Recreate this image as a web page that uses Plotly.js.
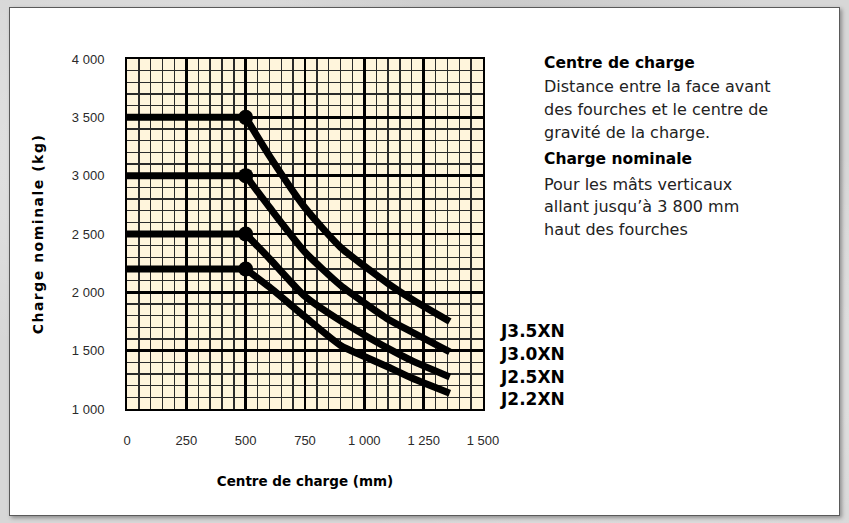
<!DOCTYPE html>
<html>
<head>
<meta charset="utf-8">
<script src="https://cdn.plot.ly/plotly-3.0.1.min.js"></script>
<style>
  html, body { margin: 0; padding: 0; width: 849px; height: 523px; overflow: hidden; }
  body {
    background-color: #d7d7d7;
    background-image:
      radial-gradient(ellipse at 20% 30%, rgba(255,255,255,0.35), rgba(255,255,255,0) 40%),
      radial-gradient(ellipse at 80% 70%, rgba(255,255,255,0.3), rgba(255,255,255,0) 45%),
      radial-gradient(ellipse at 60% 10%, rgba(160,160,160,0.25), rgba(160,160,160,0) 35%);
  }
  #panel {
    position: absolute; left: 9px; top: 7px; width: 829px; height: 507px;
    background: #ffffff; border: 1px solid #5a5a5a;
    box-shadow: 2px 2px 4px rgba(0,0,0,0.35);
  }
  #chart { position: absolute; left: 0; top: 0; width: 849px; height: 523px; }
  .ytitle { letter-spacing: 1.5px; }
</style>
</head>
<body>
<div id="panel"></div>
<div id="chart"></div>
<script>
// ---- data ----
const centreCharge = [0, 500, 600, 750, 900, 1000, 1100, 1200, 1360];   // mm
const j35xn = [3500, 3500, 3170, 2725, 2385, 2225, 2075, 1940, 1750];   // kg
const j30xn = [3000, 3000, 2730, 2345, 2060, 1910, 1770, 1660, 1490];
const j25xn = [2500, 2500, 2290, 1965, 1755, 1635, 1520, 1415, 1275];
const j22xn = [2200, 2200, 2045, 1790, 1545, 1450, 1360, 1265, 1135];
const seriesNames = ['J3.5XN', 'J3.0XN', 'J2.5XN', 'J2.2XN'];
const kneeCentre = 500;

const xTickVals = [0, 250, 500, 750, 1000, 1250, 1500];
const yTickVals = [1000, 1500, 2000, 2500, 3000, 3500, 4000];

const xTitle = 'Centre de charge (mm)';
const yTitle = 'Charge nominale (kg)';
const noteLines = [
  ['Centre de charge', true],
  ['Distance entre la face avant', false],
  ['des fourches et le centre de', false],
  ['gravité de la charge.', false],
  ['Charge nominale', true],
  ['Pour les mâts verticaux', false],
  ['allant jusqu’à 3 800 mm', false],
  ['haut des fourches', false]
];

// ---- build ----
const allSeries = [j35xn, j30xn, j25xn, j22xn];
const kneeIdx = centreCharge.indexOf(kneeCentre);
const traces = [];
allSeries.forEach((ys, i) => {
  // constant-capacity plateau up to the rated load centre
  traces.push({
    type: 'scatter', mode: 'lines', name: seriesNames[i], legendgroup: seriesNames[i],
    x: centreCharge.slice(0, kneeIdx + 1), y: ys.slice(0, kneeIdx + 1),
    line: { color: '#000000', width: 7 },
    hoverinfo: 'x+y+name'
  });
  // derating curve beyond the rated load centre
  traces.push({
    type: 'scatter', mode: 'lines', name: seriesNames[i], legendgroup: seriesNames[i], showlegend: false,
    x: centreCharge.slice(kneeIdx), y: ys.slice(kneeIdx),
    line: { color: '#000000', width: 7, shape: 'spline', smoothing: 0.6 },
    hoverinfo: 'x+y+name'
  });
});
traces.push({
  type: 'scatter', mode: 'markers', showlegend: false,
  x: allSeries.map(() => centreCharge[kneeIdx]),
  y: allSeries.map(s => s[kneeIdx]),
  marker: { color: '#000000', size: 15 },
  hoverinfo: 'skip'
});

const boldFont = 'DejaVu Sans, Verdana, sans-serif';
const tickFont = 'Liberation Sans, Arial, sans-serif';

// layout geometry (pixels of the 849x523 page)
const L = 127, R = 483, T = 59, B = 409;
const pw = R - L, ph = B - T;
const px2x = p => (p - L) / pw;
const py2y = p => (B - p) / ph;

const annotations = [];
const noteY = [63, 87, 109, 132, 159, 184, 206, 229];
noteLines.forEach((ln, i) => {
  annotations.push({
    xref: 'paper', yref: 'paper', x: px2x(542), y: py2y(noteY[i]),
    xanchor: 'left', yanchor: 'middle', showarrow: false,
    text: ln[1] ? '<b>' + ln[0] + '</b>' : ln[0],
    font: { family: boldFont, size: ln[1] ? 15.5 : 16, color: ln[1] ? '#000' : '#222' }
  });
});
const labelY = [331, 354, 377, 399];
seriesNames.forEach((nm, i) => {
  annotations.push({
    xref: 'paper', yref: 'paper', x: px2x(498), y: py2y(labelY[i]),
    xanchor: 'left', yanchor: 'middle', showarrow: false,
    text: '<b>' + nm + '</b>',
    font: { family: boldFont, size: 17, color: '#000' }
  });
});

const gridCommon = {
  showline: true, mirror: true, linecolor: '#000', linewidth: 2,
  showgrid: true, gridcolor: '#000', gridwidth: 2.5,
  zeroline: false, ticks: '', separatethousands: true,
  tickfont: { family: tickFont, size: 13, color: '#2a2a2a' },
  ticklabelstandoff: 18
};

const layout = {
  width: 849, height: 523,
  margin: { l: L, r: 849 - R, t: T, b: 523 - B },
  paper_bgcolor: 'rgba(0,0,0,0)',
  plot_bgcolor: '#fff5dc',
  separators: ', ',
  showlegend: false,
  xaxis: Object.assign({}, gridCommon, {
    range: [0, 1500], tickvals: xTickVals,
    minor: { dtick: 50, tick0: 0, showgrid: true, gridcolor: '#2a2a2a', gridwidth: 1.4 },
    title: { text: '<b>' + xTitle + '</b>', font: { family: boldFont, size: 13.5, color: '#000' }, standoff: 30 }
  }),
  yaxis: Object.assign({}, gridCommon, {
    range: [1000, 4000], tickvals: yTickVals,
    minor: { dtick: 100, tick0: 0, showgrid: true, gridcolor: '#2a2a2a', gridwidth: 1.4 },
    title: { text: '<b>' + yTitle + '</b>', font: { family: boldFont, size: 14, color: '#000' }, standoff: 25 }
  }),
  annotations: annotations
};

Plotly.newPlot('chart', traces, layout, { displayModeBar: false, staticPlot: true });
</script>
</body>
</html>
